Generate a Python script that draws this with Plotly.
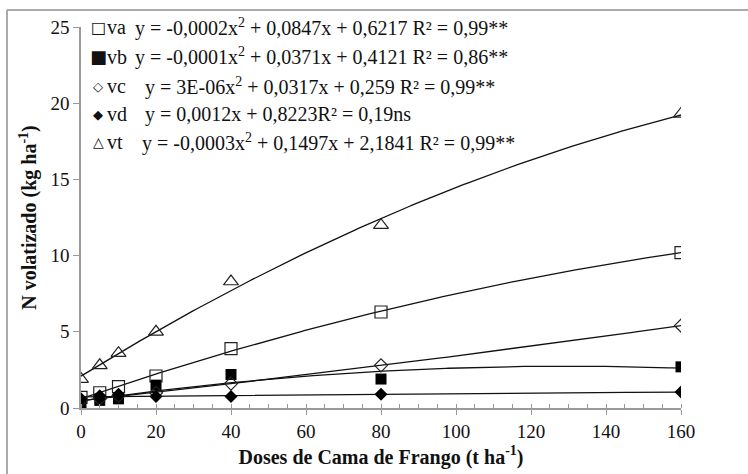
import numpy as np
import plotly.graph_objects as go

# ---- data ----
doses = [0, 5, 10, 20, 40, 80, 160]
va = [0.7, 1.0, 1.4, 2.1, 3.9, 6.3, 10.2]
vb = [0.3, 0.5, 0.6, 1.5, 2.2, 1.9, 2.7]
vc = [0.5, 0.6, 0.8, 1.0, 1.6, 2.8, 5.4]
vd = [0.6, 0.8, 0.9, 0.75, 0.75, 0.9, 1.05]
vt = [1.9, 2.8, 3.6, 5.0, 8.3, 12.0, 19.3]

series_names = ["va", "vb", "vc", "vd", "vt"]
series_values = [va, vb, vc, vd, vt]
fit_degree = [2, 2, 2, 1, 2]
equations = [
    "y = -0,0002x<sup>2</sup> + 0,0847x + 0,6217 R² = 0,99**",
    "y = -0,0001x<sup>2</sup> + 0,0371x + 0,4121 R² = 0,86**",
    "y = 3E-06x<sup>2</sup> + 0,0317x + 0,259 R² = 0,99**",
    "y = 0,0012x + 0,8223R² = 0,19ns",
    "y = -0,0003x<sup>2</sup> + 0,1497x + 2,1841 R² = 0,99**",
]
legend_glyphs = ["□", "■", "◇", "◆", "△"]
x_ticks = [0, 20, 40, 60, 80, 100, 120, 140, 160]
y_ticks = [0, 5, 10, 15, 20, 25]

# ---- styles ----
marker_styles = [
    dict(symbol="square-open", size=12, color="#222", line=dict(width=1.2, color="#222")),
    dict(symbol="square", size=11, color="#000"),
    dict(symbol="diamond-open", size=10, color="#222", line=dict(width=1.2, color="#222")),
    dict(symbol="diamond", size=10, color="#000"),
    dict(symbol="triangle-up-open", size=13, color="#222", line=dict(width=1.2, color="#222")),
]
glyph_sizes = [16, 18, 13, 13, 14]
eq_px = [133, 133, 143, 143, 140]
row_py = [27, 57, 86, 114, 142]

W, H = 748, 474
L, R, T, B = 81, 67, 27, 66
PW, PH = W - L - R, H - T - B


def px(x):
    return (x - L) / PW


def py(y):
    return (H - B - y) / PH


SERIF = "Liberation Serif"
TXT = "#111"

fig = go.Figure()
xs = np.linspace(0, 160, 200)
for name, vals, deg in zip(series_names, series_values, fit_degree):
    coef = np.polyfit(doses, vals, deg)
    fig.add_trace(go.Scatter(x=xs, y=np.polyval(coef, xs), mode="lines",
                             line=dict(color="#111", width=1.3), showlegend=False,
                             hoverinfo="skip"))
for name, vals, ms in zip(series_names, series_values, marker_styles):
    fig.add_trace(go.Scatter(x=doses, y=vals, mode="markers", name=name,
                             marker=ms, showlegend=False))

annotations = []
for i, name in enumerate(series_names):
    annotations.append(dict(x=px(98), y=py(row_py[i]), xref="paper", yref="paper",
                            text=legend_glyphs[i], showarrow=False, xanchor="center",
                            yanchor="middle",
                            font=dict(family="DejaVu Sans", size=glyph_sizes[i], color=TXT)))
    annotations.append(dict(x=px(105), y=py(row_py[i]), xref="paper", yref="paper",
                            text=name, showarrow=False, xanchor="left", yanchor="middle",
                            font=dict(family=SERIF, size=20, color=TXT)))
    annotations.append(dict(x=px(eq_px[i]), y=py(row_py[i]), xref="paper", yref="paper",
                            text=equations[i], showarrow=False, xanchor="left",
                            yanchor="middle",
                            font=dict(family=SERIF, size=20, color=TXT)))

fig.update_layout(
    width=W, height=H,
    margin=dict(l=L, r=R, t=T, b=B, autoexpand=False),
    paper_bgcolor="white", plot_bgcolor="white",
    showlegend=False,
    annotations=annotations,
    xaxis=dict(range=[0, 160], tickvals=x_ticks, ticks="outside", ticklen=5,
               tickcolor="#999", tickwidth=1.2,
               showline=True, linecolor="#999", linewidth=1.5, showgrid=False,
               zeroline=False,
               minor=dict(dtick=5, ticks="inside", ticklen=4, tickcolor="#999", tickwidth=1),
               tickfont=dict(family=SERIF, size=19, color=TXT),
               title=dict(text="<b>Doses de Cama de Frango (t ha<sup>-1</sup>)</b>", standoff=9,
                          font=dict(family=SERIF, size=20, color=TXT))),
    xaxis2=dict(range=[0, 160], overlaying="x", matches="x", tickvals=x_ticks,
                ticks="inside", ticklen=4, tickcolor="#999", tickwidth=1.2,
                showticklabels=False, showgrid=False, zeroline=False, showline=False,
                side="bottom"),
    yaxis=dict(range=[0, 25], tickvals=y_ticks, ticks="outside", ticklen=6,
               tickcolor="#999", tickwidth=1.2,
               showline=True, linecolor="#999", linewidth=1.5, showgrid=False,
               zeroline=False,
               tickfont=dict(family=SERIF, size=19, color=TXT),
               title=dict(text="<b>N volatizado (kg ha<sup>-1</sup>)</b>", standoff=8,
                          font=dict(family=SERIF, size=20, color=TXT))),
    shapes=[
        dict(type="line", xref="paper", yref="paper", x0=px(7), x1=px(W + 5),
             y0=py(10), y1=py(10), line=dict(color="#aaa", width=2)),
        dict(type="line", xref="paper", yref="paper", x0=px(7), x1=px(7),
             y0=py(10), y1=py(H + 5), line=dict(color="#aaa", width=2)),
    ],
)
# invisible trace so the overlay axis draws its inner tick marks
fig.add_trace(go.Scatter(x=[0], y=[0], xaxis="x2", mode="markers",
                         marker=dict(opacity=0), showlegend=False, hoverinfo="skip"))

fig.write_html("out.html", config={"displayModeBar": False},
               post_script="document.body.style.margin='0';document.body.style.padding='0';document.body.style.overflow='hidden';")
